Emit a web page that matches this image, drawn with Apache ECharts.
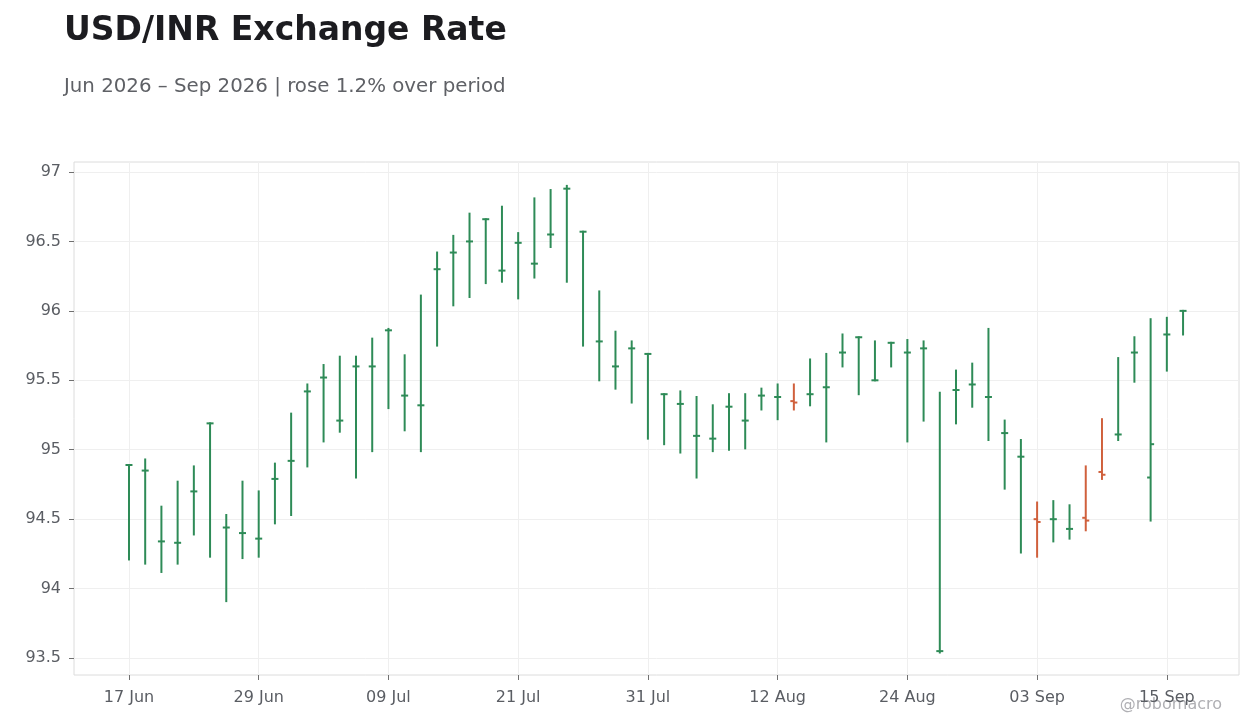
<!DOCTYPE html>
<html>
<head>
<meta charset="utf-8">
<script src="https://cdn.jsdelivr.net/npm/echarts@6/dist/echarts.min.js"></script>
<style>
  html, body { margin: 0; padding: 0; background: #ffffff; }
  #chart { width: 1260px; height: 728px; }
</style>
</head>
<body>
<div id="chart"></div>
<script>
// trading days (weekdays), 17 Jun 2026 -> 16 Sep 2026
const dates = [
  "17 Jun","18 Jun","19 Jun","22 Jun","23 Jun","24 Jun","25 Jun","26 Jun",
  "29 Jun","30 Jun","01 Jul","02 Jul","03 Jul","06 Jul","07 Jul","08 Jul",
  "09 Jul","10 Jul","13 Jul","14 Jul","15 Jul","16 Jul","17 Jul","20 Jul",
  "21 Jul","22 Jul","23 Jul","24 Jul","27 Jul","28 Jul","29 Jul","30 Jul",
  "31 Jul","03 Aug","04 Aug","05 Aug","06 Aug","07 Aug","10 Aug","11 Aug",
  "12 Aug","13 Aug","14 Aug","17 Aug","18 Aug","19 Aug","20 Aug","21 Aug",
  "24 Aug","25 Aug","26 Aug","27 Aug","28 Aug","31 Aug","01 Sep","02 Sep",
  "03 Sep","04 Sep","07 Sep","08 Sep","09 Sep","10 Sep","11 Sep","14 Sep",
  "15 Sep","16 Sep"
]

const opens = [
  94.89,94.85,94.34,94.33,94.70,95.19,94.44,94.40,94.36,94.79,94.92,95.42,95.52,95.21,95.60,95.60,
  95.86,95.39,95.32,96.30,96.42,96.50,96.66,96.29,96.49,96.34,96.55,96.88,96.57,95.78,95.60,95.73,
  95.69,95.40,95.33,95.10,95.08,95.31,95.21,95.39,95.38,95.35,95.40,95.45,95.70,95.81,95.50,95.77,
  95.70,95.73,93.55,95.43,95.47,95.38,95.12,94.95,94.50,94.50,94.43,94.51,94.84,95.11,95.70,94.80,
  95.83,96.00
]
const closes = [
  94.89,94.85,94.34,94.33,94.70,95.19,94.44,94.40,94.36,94.79,94.92,95.42,95.52,95.21,95.60,95.60,
  95.86,95.39,95.32,96.30,96.42,96.50,96.66,96.29,96.49,96.34,96.55,96.88,96.57,95.78,95.60,95.73,
  95.69,95.40,95.33,95.10,95.08,95.31,95.21,95.39,95.38,95.34,95.40,95.45,95.70,95.81,95.50,95.77,
  95.70,95.73,93.55,95.43,95.47,95.38,95.12,94.95,94.48,94.50,94.43,94.49,94.82,95.11,95.70,95.04,
  95.83,96.00
]
const lows = [
  94.21,94.18,94.12,94.18,94.39,94.23,93.91,94.22,94.23,94.47,94.53,94.88,95.06,95.13,94.80,94.99,
  95.30,95.14,94.99,95.75,96.04,96.10,96.20,96.21,96.09,96.24,96.46,96.21,95.75,95.50,95.44,95.34,
  95.08,95.04,94.98,94.80,94.99,95.00,95.01,95.29,95.22,95.29,95.32,95.06,95.60,95.40,95.50,95.60,
  95.06,95.21,93.54,95.19,95.31,95.07,94.72,94.26,94.23,94.34,94.36,94.42,94.79,95.07,95.49,94.49,
  95.57,95.83
]
const highs = [
  94.89,94.93,94.59,94.77,94.88,95.19,94.53,94.77,94.70,94.90,95.26,95.47,95.61,95.67,95.67,95.80,
  95.87,95.68,96.11,96.42,96.54,96.70,96.66,96.75,96.56,96.81,96.87,96.90,96.57,96.14,95.85,95.78,
  95.69,95.40,95.42,95.38,95.32,95.40,95.40,95.44,95.47,95.47,95.65,95.69,95.83,95.81,95.78,95.77,
  95.79,95.78,95.41,95.57,95.62,95.87,95.21,95.07,94.62,94.63,94.60,94.88,95.22,95.66,95.81,95.94,
  95.95,96.00
]

const labelIdx = [0, 8, 16, 24, 32, 40, 48, 56, 64]
const yTicks = [93.5, 94, 94.5, 95, 95.5, 96, 96.5, 97]

const UP = "#2e8b57"
const DOWN = "#d0603c"

const seriesData = dates.map((d, i) => [i, opens[i], closes[i], lows[i], highs[i]])

function renderItem(params, api) {
  const x = api.value(0)
  const o = api.coord([x, api.value(1)])
  const c = api.coord([x, api.value(2)])
  const lo = api.coord([x, api.value(3)])
  const hi = api.coord([x, api.value(4)])
  const color = api.value(2) >= api.value(1) ? UP : DOWN
  const style = { stroke: color, lineWidth: 2, fill: null }
  return {
    type: "group",
    children: [
      { type: "line", shape: { x1: lo[0], y1: lo[1] + 1, x2: hi[0], y2: hi[1] - 1 }, style: style },
      { type: "line", shape: { x1: o[0] - 3.5, y1: o[1], x2: o[0], y2: o[1] }, style: style },
      { type: "line", shape: { x1: c[0], y1: c[1], x2: c[0] + 3.5, y2: c[1] }, style: style }
    ]
  }
}

const textColor = "#5a5d63"
const gridColor = "#efefef"
const frameColor = "#dcdcdc"
const tickColor = "#707070"

let option = {
  backgroundColor: "#ffffff",
  animation: false,
  title: [
    {
      text: "USD/INR Exchange Rate",
      left: 59,
      top: 10,
      textStyle: { fontFamily: "DejaVu Sans", fontSize: 33, fontWeight: "bold", color: "#1c1c20" }
    },
    {
      text: "Jun 2026 \u2013 Sep 2026 | rose 1.2% over period",
      left: 59,
      top: 72,
      textStyle: { fontFamily: "DejaVu Sans", fontSize: 19.8, fontWeight: "normal", color: "#5f6166" }
    }
  ],
  graphic: [
    {
      type: "text",
      right: 38,
      top: 697,
      style: { text: "@robomacro", fontFamily: "DejaVu Sans", fontSize: 16, fill: "#b0b0b4" }
    }
  ],
  grid: {
    left: 74,
    right: 21,
    top: 162,
    bottom: 53,
    show: true,
    borderColor: frameColor,
    borderWidth: 1,
    backgroundColor: "#ffffff"
  },
  xAxis: {
    type: "value",
    min: -3.39,
    max: 68.45,
    axisLine: { show: false, onZero: false },
    axisTick: {
      show: true,
      customValues: labelIdx,
      length: 5,
      lineStyle: { color: tickColor }
    },
    axisLabel: {
      customValues: labelIdx,
      formatter: v => dates[v] || "",
      color: textColor,
      fontFamily: "DejaVu Sans",
      fontSize: 16,
      margin: 15
    },
    splitLine: { show: true, lineStyle: { color: gridColor, width: 1 } }
  },
  yAxis: {
    type: "value",
    min: 93.378,
    max: 97.072,
    axisLine: { show: false, onZero: false },
    axisTick: {
      show: true,
      customValues: yTicks,
      length: 5,
      lineStyle: { color: tickColor }
    },
    axisLabel: {
      customValues: yTicks,
      color: textColor,
      fontFamily: "DejaVu Sans",
      fontSize: 16,
      margin: 13
    },
    splitLine: { show: true, lineStyle: { color: gridColor, width: 1 } }
  },
  series: [
    {
      type: "custom",
      renderItem: renderItem,
      encode: { x: 0, y: [1, 2, 3, 4] },
      data: seriesData,
      clip: true
    }
  ]
}

let chartEl = echarts.init(document.getElementById("chart"))
chartEl.setOption(option)
</script>
</body>
</html>
